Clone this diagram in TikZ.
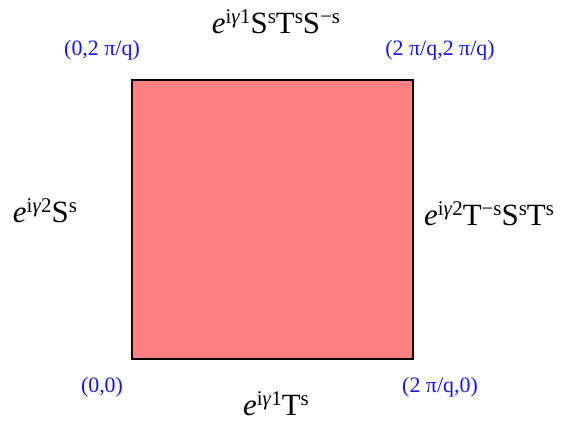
\documentclass[tikz,border=0pt]{standalone}
\usepackage{fontspec}
\setmainfont{Liberation Serif}
\definecolor{salmon}{RGB}{255,128,128}
\definecolor{lblblue}{RGB}{20,20,255}
\newcommand{\Up}[1]{\raisebox{10bp}{\fontsize{21}{21}\selectfont #1}}
\newcommand{\ee}{\textit{e}}
\begin{document}
\begin{tikzpicture}[x=1bp,y=-1bp,
  mainlbl/.style={font=\fontsize{31}{31}\selectfont, inner sep=0pt, anchor=base},
  cornerlbl/.style={font=\fontsize{22}{22}\selectfont, text=lblblue, inner sep=0pt}]
\useasboundingbox (0,0) rectangle (568,432);
\node[draw=black, line width=1.6bp, fill=salmon, minimum width=281bp, minimum height=279bp, inner sep=0pt, anchor=north west] (sq) at (131,79) {};
\node[mainlbl] (top) at (276,33) {\ee\Up{i\textit{γ}1}S\Up{s}T\Up{s}S\Up{−s}};
\node[mainlbl] (bot) at (276,415) {\ee\Up{i\textit{γ}1}T\Up{s}};
\node[mainlbl] (left) at (45,222) {\ee\Up{i\textit{γ}2}S\Up{s}};
\node[mainlbl] (right) at (489,225) {\ee\Up{i\textit{γ}2}T\Up{−s}S\Up{s}T\Up{s}};
\node[cornerlbl] (c02) at (102,50) {(0,2 π/q)};
\node[cornerlbl] (c22) at (440,50) {(2 π/q,2 π/q)};
\node[cornerlbl] (c00) at (102,387) {(0,0)};
\node[cornerlbl] (c20) at (440,387) {(2 π/q,0)};
\end{tikzpicture}
\end{document}
